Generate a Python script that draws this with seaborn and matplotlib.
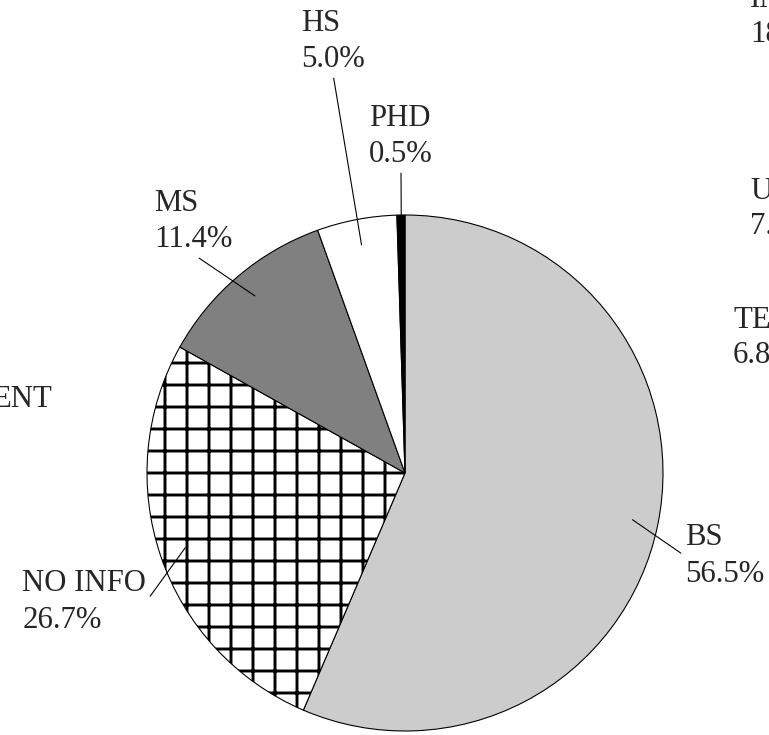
import numpy as np
import matplotlib
matplotlib.use('Agg')
import matplotlib.pyplot as plt
import seaborn as sns

# education level shares (percent), clockwise from 12 o'clock
labels = ['BS', 'NO INFO', 'MS', 'HS', 'PHD']
shares = [56.5, 26.7, 11.4, 5.0, 0.5]
colors = ['#cccccc', '#ffffff', '#808080', '#ffffff', '#000000']
hatches = ['', '+', '', '', '']

# labels of the neighbouring pie that peek in at the edges (cut by the crop)
edge_names = ['IN', 'U', 'TE', 'ENT']
edge_values = ['18', '7.', '6.8', '']

sns.set_theme(style='white')
plt.rcParams['font.family'] = ['Liberation Serif', 'DejaVu Serif']
plt.rcParams['hatch.linewidth'] = 1.6

W, H, DPI = 769, 735, 132
FS = 16.8
fig = plt.figure(figsize=(W / DPI, H / DPI), dpi=DPI)
ax = fig.add_axes([0, 0, 1, 1])

cx, cy, r = 405, H - 473, 258
wedges, _ = ax.pie(shares, colors=colors, startangle=90, counterclock=False,
                   center=(cx, cy), radius=r, frame=True,
                   wedgeprops=dict(edgecolor='black', linewidth=0.6))
for w, h in zip(wedges, hatches):
    if h:
        w.set_hatch(h)

# label layout: (x, y in image px, ha, va, relpos of line end on the text box)
layout = {
    'BS': (685, 556, 'left', 'center', (0, 0.5)),
    'NO INFO': (146, 602, 'right', 'center', (1, 0.5)),
    'MS': (193, 254, 'center', 'bottom', (0.5, 0)),
    'HS': (333, 74, 'center', 'bottom', (0.5, 0)),
    'PHD': (401, 169, 'center', 'bottom', (0.5, 0)),
}
for w, name, v in zip(wedges, labels, shares):
    mid = np.deg2rad((w.theta1 + w.theta2) / 2)
    px = cx + 0.9 * r * np.cos(mid)
    py = cy + 0.9 * r * np.sin(mid)
    tx, ty, ha, va, rp = layout[name]
    ax.annotate(f'{name}\n{v:.1f}%', xy=(px, py), xytext=(tx, H - ty),
                ha=ha, va=va, multialignment='left', fontsize=FS,
                linespacing=1.33,
                arrowprops=dict(arrowstyle='-', color='black', lw=0.6,
                                shrinkA=0, shrinkB=0, relpos=rp))

edge_pos = [(750, 7, 'left'), (750, 199, 'left'), (733, 328, 'left'),
            (52, 407, 'right')]
for name, val, (x, y, ha) in zip(edge_names, edge_values, edge_pos):
    ax.text(x, H - y, name, ha=ha, va='baseline', fontsize=FS)
    if val:
        ax.text(x, H - y - 35, val, ha=ha, va='baseline', fontsize=FS)

ax.set_xlim(0, W)
ax.set_ylim(0, H)
ax.set_axis_off()
fig.savefig('out.png', dpi=DPI, facecolor='white')
